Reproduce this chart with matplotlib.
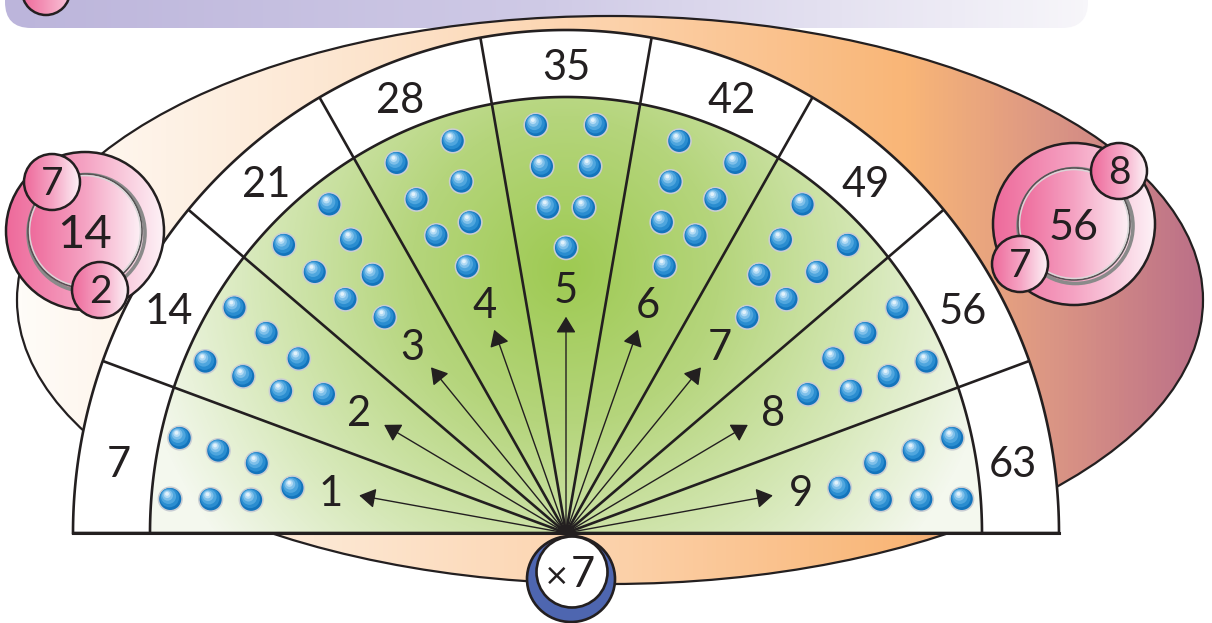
import numpy as np
import matplotlib
matplotlib.use('Agg')
import matplotlib.pyplot as plt
from matplotlib.patches import Polygon, Circle, Ellipse, FancyBboxPatch, FancyArrowPatch
from matplotlib.colors import LinearSegmentedColormap

# ---------------- data ----------------
multiplier = 7
factors = [1, 2, 3, 4, 5, 6, 7, 8, 9]
products = [7, 14, 21, 28, 35, 42, 49, 56, 63]
dots_per_group = [7, 7, 7, 7, 7, 7, 7, 7, 7]
left_badge = {'top': '7', 'bottom': '2', 'center': '14'}
right_badge = {'top': '8', 'bottom': '7', 'center': '56'}
op_label = '×7'

# ---------------- figure ----------------
W, H = 1212, 623
fig = plt.figure(figsize=(W / 100, H / 100), dpi=100)
ax = fig.add_axes([0, 0, 1, 1])
ax.axis('off')

FONT = ['Lato', 'DejaVu Sans']
INK = '#231F20'
CX, CY = 566, 533
YS = 1.03
R_OUT = (493, 503)
R_IN = (416, 436)
n = len(factors)
step = 180.0 / n
VA_FIX = 4  # shift so that digit ink is centred on the anchor


def pt(theta, r, s=0.0):
    t = np.radians(theta)
    px = r * np.cos(t) - s * np.sin(t)
    py = r * np.sin(t) + s * np.cos(t)
    return CX + px, CY - YS * py


def arc(t0, t1, rx, ry, m=300):
    t = np.radians(np.linspace(t0, t1, m))
    return np.column_stack([CX + rx * np.cos(t), CY - ry * np.sin(t)])


def grad(patch, colors, extent, z, kind='h', center=None, radius=None, stops=None):
    x0, x1, y0, y1 = extent
    nx, ny = max(int(x1 - x0), 2), max(int(y1 - y0), 2)
    X, Y = np.meshgrid(np.linspace(x0, x1, nx), np.linspace(y0, y1, ny))
    if kind == 'h':
        T = (X - x0) / (x1 - x0)
    else:
        T = np.clip(np.hypot(X - center[0], (Y - center[1])) / radius, 0, 1)
    if stops is None:
        stops = np.linspace(0, 1, len(colors))
    cmap = LinearSegmentedColormap.from_list('g', list(zip(stops, colors)))
    im = ax.imshow(cmap(T), extent=(x0, x1, y1, y0), origin='upper', zorder=z,
                   interpolation='bilinear', aspect='auto')
    im.set_clip_path(patch)


def digits(x, y, s, fs, z):
    ax.text(x, y + VA_FIX, s, fontsize=fs, family=FONT, color=INK,
            ha='center', va='center', zorder=z)


# ---------------- header bar ----------------
hdr = FancyBboxPatch((5, -60), 1083, 88, boxstyle='round,pad=0,rounding_size=26',
                     fc='none', ec='none', zorder=1)
ax.add_patch(hdr)
grad(hdr, ['#BCB5DB', '#CFCAE6', '#F7F6FA'], (5, 1088, -60, 28), 1)
hc = Circle((46, -9), 24, fc='none', ec='none', zorder=2)
ax.add_patch(hc)
grad(hc, ['#EE6A9B', '#F9C3D7'], (22, 70, -33, 15), 2)
ax.add_patch(Circle((46, -9), 24, fc='none', ec=INK, lw=1.8, zorder=3))

# ---------------- big background band ----------------
band = Ellipse((610, 300), 1186, 568, fc='none', ec='none', zorder=2)
ax.add_patch(band)
grad(band, ['#FFFCF8', '#FDE8D4', '#FCD2AB', '#F9B677', '#DC9784', '#BC7088'],
     (17, 1203, 16, 584), 2, stops=[0, 0.25, 0.5, 0.75, 0.87, 1])
ax.add_patch(Ellipse((610, 300), 1186, 568, fc='none', ec=INK, lw=1.6, zorder=3))

# ---------------- fan ----------------
outer = arc(0, 180, *R_OUT)
ax.add_patch(Polygon(outer, closed=True, fc='white', ec=INK, lw=1.9, zorder=4))
inner = arc(0, 180, *R_IN)
green = Polygon(inner, closed=True, fc='none', ec='none', zorder=5)
ax.add_patch(green)
grad(green, ['#9ECA52', '#B5D57C', '#D6E8B8', '#F4F8EE'], (CX - 420, CX + 420, CY - 440, CY + 2), 5,
     kind='r', center=(CX, 270), radius=440, stops=[0, 0.35, 0.7, 1])
ax.add_patch(Polygon(inner, closed=True, fc='none', ec=INK, lw=1.9, zorder=6))

for k in range(1, n):
    t = np.radians(k * step)
    ax.plot([CX, CX + R_OUT[0] * np.cos(t)], [CY, CY - R_OUT[1] * np.sin(t)],
            color=INK, lw=1.9, zorder=7, solid_capstyle='butt')
ax.plot([CX - R_OUT[0], CX + R_OUT[0]], [CY, CY], color=INK, lw=2.2, zorder=7)

# dot pattern inside a wedge (radial distance, tangential offset)
pattern = [(396, 30), (396, -30), (356, 24), (356, -24), (316, 18), (316, -18), (277, 0)]


def blue_dot(x, y, z=9):
    ax.add_patch(Circle((x, y), 12.6, fc='#C9CDD3', ec='none', zorder=z))
    ax.add_patch(Circle((x, y), 11.0, fc='#1374BC', ec='none', zorder=z))
    layers = [(9.6, -0.8, -1.3, '#2A8DD0'), (7.6, -1.7, -2.6, '#4FA6DE'),
              (5.4, -2.6, -3.7, '#7FC0EA'), (3.5, -3.0, -4.5, '#B3DBF5'),
              (1.9, -3.2, -5.1, '#E2F2FC')]
    for r, dx, dy, c in layers:
        ax.add_patch(Circle((x + dx, y + dy), r, fc=c, ec='none', zorder=z))


for i, (f, p, nd) in enumerate(zip(factors, products, dots_per_group)):
    mid = 180 - step * (i + 0.5)
    sgn = np.sign(mid - 90)
    # product label in white ring
    lx, ly = pt(mid + 1.5 * sgn, 452)
    digits(lx, ly - VA_FIX + 1, str(p), 30, 9)
    # arrow and factor label
    tx, ty = pt(mid, 210)
    ax.add_patch(FancyArrowPatch((CX, CY), (tx, ty), arrowstyle='-|>,head_length=0.9,head_width=0.55',
                                 mutation_scale=11, lw=1.0, color=INK, shrinkA=0, shrinkB=0, zorder=8))
    fx, fy = pt(mid, 239)
    digits(fx, fy, str(f), 30, 9)
    for r, s in pattern[:nd]:
        dx, dy = pt(mid + 0.9 * sgn, r, s)
        blue_dot(dx, dy)


# ---------------- pink badges ----------------
PINK = ['#EE6A9B', '#F5A3C3', '#FDF1F6']


def pink_circle(c, r, z, lw=1.8):
    circ = Circle(c, r, fc='none', ec='none', zorder=z)
    ax.add_patch(circ)
    grad(circ, PINK, (c[0] - r, c[0] + r, c[1] - r, c[1] + r), z)
    if lw > 0:
        ax.add_patch(Circle(c, r, fc='none', ec=INK, lw=lw, zorder=z + 0.5))


def badge(center, R, r_in, small_top, small_bot, texts, fs_center):
    pink_circle(center, R, 10)
    ax.add_patch(Circle((center[0] + 1.5, center[1] + 2), r_in + 1.5, fc='none', ec='#8A8A8A', lw=2.6, zorder=11))
    pink_circle(center, r_in, 11, lw=0.0)
    ax.add_patch(Circle(center, r_in, fc='none', ec='#555555', lw=1.2, zorder=11.6))
    ax.add_patch(Circle(center, r_in - 1.6, fc='none', ec='#D8D8D8', lw=1.0, zorder=11.6))
    digits(center[0], center[1], texts['center'], fs_center, 12)
    for (c, key) in ((small_top, 'top'), (small_bot, 'bottom')):
        pink_circle(c, 28, 13)
        digits(c[0], c[1] - 2, texts[key], 28, 14)


badge((85, 231), 79, 57, (52, 182), (100, 290), left_badge, 34)
badge((1074, 224), 81, 56, (1119, 171), (1020, 264), right_badge, 31)

# ---------------- bottom operator ----------------
ax.add_patch(Ellipse((571, 579), 88, 86, fc='#4E66B0', ec=INK, lw=1.9, zorder=15))
ax.add_patch(Circle((572, 572), 35.5, fc='white', ec=INK, lw=1.9, zorder=16))
ax.text(557, 576, op_label[0], fontsize=22, family=['DejaVu Sans'], color=INK,
        ha='center', va='center', zorder=17)
ax.text(583, 575, op_label[1:], fontsize=30, family=FONT, color=INK, ha='center', va='center', zorder=17)

ax.set_xlim(0, W)
ax.set_ylim(H, 0)
fig.savefig('out.png', dpi=100)
